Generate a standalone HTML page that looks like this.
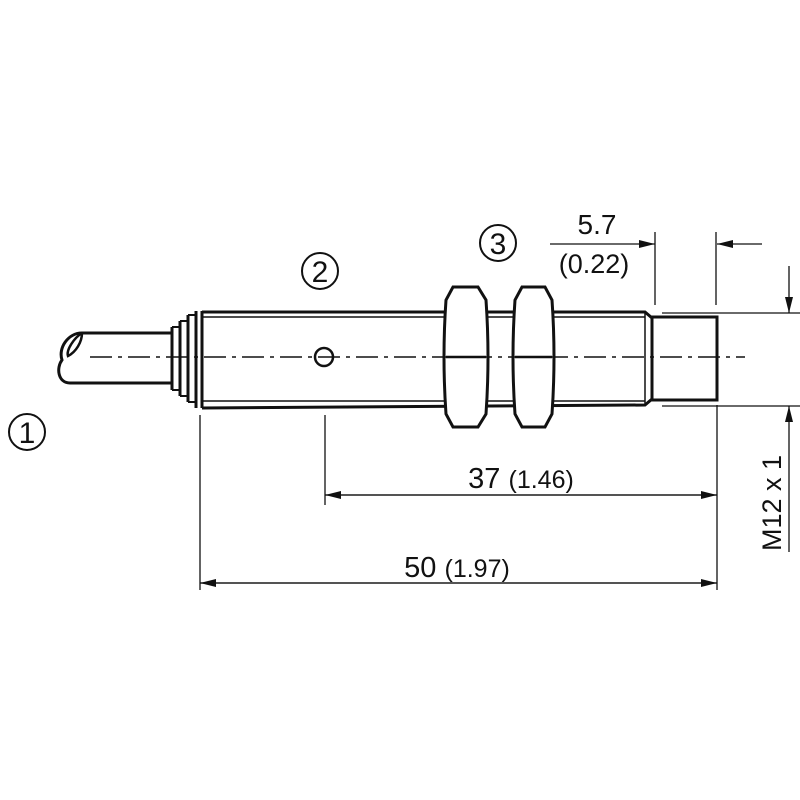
<!DOCTYPE html>
<html><head><style>body{margin:0;background:#fff}svg{display:block}</style></head><body>
<svg width="800" height="800" viewBox="0 0 800 800" xmlns="http://www.w3.org/2000/svg" font-family="Liberation Sans, sans-serif">
<defs>
<marker id="a" viewBox="0 0 16 8" refX="16" refY="4" markerWidth="16" markerHeight="8" markerUnits="userSpaceOnUse" orient="auto"><path d="M0,0 L16,4 L0,8z" fill="#111"/></marker>
</defs>
<g stroke="#111" fill="none">
<path d="M172,333 H82 C68,333 58,348 62,360 C56,368 58,383 70,383 H172" stroke-width="3"/>
<path d="M82,333 C74,338 66,350 68,356 C76,352 82,342 82,333" stroke-width="2.5"/>
<path d="M172,327 V390 M180,321 V396 M188,315 V402 M196,311 V408" stroke-width="3"/>
<path d="M172,327 H180 M180,321 H188 M188,315 H196 M172,390 H180 M180,396 H188 M188,402 H196" stroke-width="2"/>
<path d="M202,311 V408" stroke-width="3"/>
<path d="M202,312 H645 L652,318 V399 L645,405 L202,408" stroke-width="3"/>
<path d="M202,317 H645 M202,401 H645 M645,312 V405" stroke-width="1.5"/>
<rect x="652" y="317" width="65" height="83" stroke-width="3"/>
<path d="M453,287 H478 L486,300 Q490,357 486,414 L478,427 H453 L446,414 Q442,357 446,300 Z" fill="#fff" stroke-width="3"/>
<path d="M446,357 H486" stroke-width="2.5"/>
<path d="M522,287 H545 L552,300 Q556,357 552,414 L545,427 H522 L515,414 Q511,357 515,300 Z" fill="#fff" stroke-width="3"/>
<path d="M515,357 H552" stroke-width="2.5"/>
<circle cx="324" cy="357" r="9" fill="#fff" stroke-width="2.5"/>
<path d="M90,357 H745" stroke-width="1.5" stroke-dasharray="22,6,4,6"/>
<g stroke-width="1.3">
<path d="M200,415 V590 M717,405 V590 M325,415 V505"/>
<path d="M200,583 H717" marker-end="url(#a)"/>
<path d="M717,583 H200" marker-end="url(#a)"/>
<path d="M325,495 H717" marker-end="url(#a)"/>
<path d="M717,495 H325" marker-end="url(#a)"/>
<path d="M655,232 V305 M716,232 V305"/>
<path d="M550,244 H655" marker-end="url(#a)"/>
<path d="M762,244 H717" marker-end="url(#a)"/>
<path d="M662,313 H800 M662,406 H800"/>
<path d="M789,266 V313" marker-end="url(#a)"/>
<path d="M789,552 V406" marker-end="url(#a)"/>
</g>
<circle cx="27" cy="432" r="18" stroke-width="2"/>
<circle cx="320" cy="271" r="18" stroke-width="2"/>
<circle cx="498" cy="243" r="18" stroke-width="2"/>
</g>
<g fill="#111">
<text x="27" y="443" font-size="30" text-anchor="middle">1</text>
<text x="320" y="282" font-size="30" text-anchor="middle">2</text>
<text x="498" y="254" font-size="30" text-anchor="middle">3</text>
<text x="597" y="234" font-size="28" text-anchor="middle">5.7</text>
<text x="594" y="273" font-size="27" text-anchor="middle">(0.22)</text>
<text x="521" y="488" font-size="29" text-anchor="middle">37 <tspan font-size="25">(1.46)</tspan></text>
<text x="457" y="577" font-size="29" text-anchor="middle">50 <tspan font-size="25">(1.97)</tspan></text>
<text transform="translate(781,503) rotate(-90)" font-size="27" text-anchor="middle">M12 x 1</text>
</g>
</svg>
</body></html>
